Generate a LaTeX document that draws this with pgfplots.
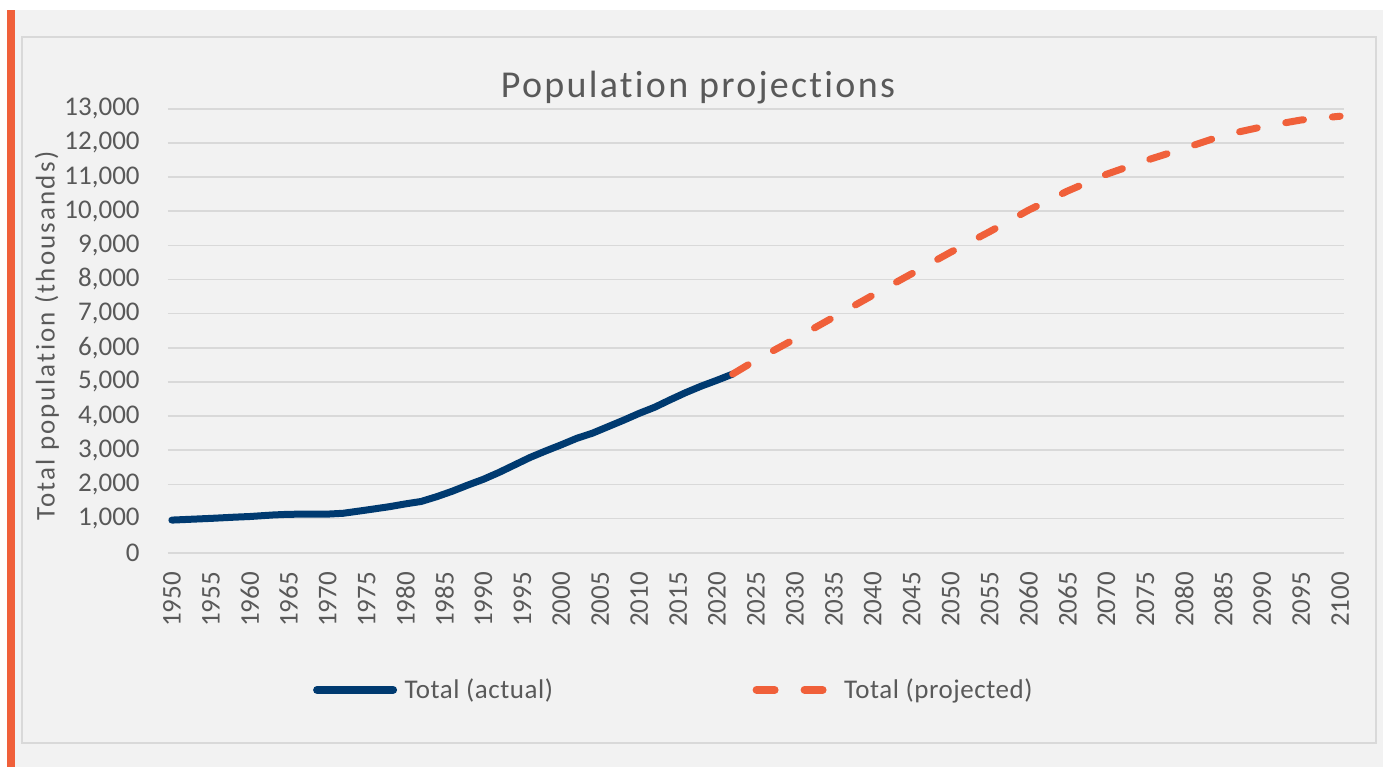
\documentclass[border=0pt]{standalone}
\usepackage{pgfplots}
\pgfplotsset{compat=1.18}
\usepackage{fontspec}
\setmainfont{Carlito}[Ligatures=NoCommon]
\newfontfamily\titlefont{Carlito}[LetterSpace=6,Ligatures=NoCommon]
\newfontfamily\ylabfont{Carlito}[LetterSpace=8,Ligatures=NoCommon]
\newfontfamily\legfont{Carlito}[LetterSpace=2,Ligatures=NoCommon]
\definecolor{bg}{HTML}{F2F2F2}
\definecolor{gridc}{HTML}{D9D9D9}
\definecolor{txt}{HTML}{595959}
\definecolor{navy}{HTML}{003A70}
\definecolor{orng}{HTML}{F0603A}
\pgfplotsset{
  legblue/.style={legend image code/.code={\draw[##1, line width=4pt] (2pt,0pt) -- (40pt,0pt);\path (0pt,0pt) (42pt,0pt);}},
  legorng/.style={legend image code/.code={\draw[##1, line width=4pt, dash pattern=on 9pt off 15pt] (2pt,0pt) -- (35pt,0pt);\path (0pt,0pt) (42pt,0pt);}},
}

\begin{document}
\begin{tikzpicture}
\begin{scope}[x=0.5pt,y=-0.5pt]
\fill[white] (0,0) rectangle (1383,767);
\fill[bg] (15,10) rectangle (1383,767);
\fill[orng] (7,10) rectangle (15,767);
\draw[gridc, line width=0.8pt] (22,37) rectangle (1376,743);
\node[text=txt, font=\titlefont\fontsize{19pt}{22pt}\selectfont] at (698,88) {Population projections};
\node[text=txt, rotate=90, font=\ylabfont\fontsize{13.5pt}{15pt}\selectfont] at (47,336) {Total population (thousands)};
\end{scope}
\begin{axis}[
  at={(84pt,-276.35pt)}, anchor=south west,
  scale only axis, width=588pt, height=222pt,
  xmin=1949.5, xmax=2100.5, ymin=0, ymax=13000,
  axis x line*=bottom, axis y line*=left,
  axis line style={draw=none},
  major tick length=0pt,
  xtick={1950,1955,...,2100},
  ytick={0,1000,...,13000},
  scaled y ticks=false,
  ymajorgrids, grid style={gridc, line width=0.8pt},
  tick label style={text=txt, font=\fontsize{13.5pt}{15pt}\selectfont},
  /pgf/number format/assume math mode=true,
  /pgf/number format/1000 sep={,},
  x tick label style={/pgf/number format/1000 sep={}, rotate=90, anchor=east, inner sep=0pt},
  xticklabel shift=9.5pt,
  y tick label style={inner sep=0pt, /pgf/number format/fixed},
  yticklabel shift=14pt,
  legend style={at={(0.4295,-0.309)}, anchor=center, draw=none, fill=none,
    legend columns=2, text=txt, font=\legfont\fontsize{13.5pt}{15pt}\selectfont,
    /tikz/every even column/.append style={column sep=96pt},
    nodes={inner sep=2pt}},
]
\addplot[navy, line width=3.5pt, line cap=round, line join=round, legblue]
coordinates {
(1950,955) (1952,975) (1955,1005) (1958,1040) (1960,1060) (1963,1105)
(1965,1125) (1968,1130) (1970,1130) (1972,1155) (1975,1250) (1978,1350)
(1980,1430) (1982,1500) (1984,1640) (1986,1800) (1988,1980) (1990,2150)
(1992,2350) (1994,2570) (1996,2790) (1998,2980) (2000,3160) (2002,3350)
(2004,3500) (2006,3690) (2008,3880) (2010,4080) (2012,4260) (2014,4480)
(2016,4690) (2018,4880) (2020,5050) (2022,5230)
};
\addlegendentry{Total (actual)}
\addplot[orng, line width=3.5pt, line cap=round, line join=round, dash pattern=on 9pt off 14.5pt, legorng]
coordinates {
(2022,5230) (2025,5640) (2030,6260) (2035,6900) (2040,7540) (2045,8170)
(2050,8800) (2055,9400) (2060,10030) (2065,10590) (2070,11080) (2075,11480)
(2080,11840) (2085,12220) (2090,12470) (2095,12670) (2100,12780)
};
\addlegendentry{Total (projected)}
\end{axis}
\end{tikzpicture}
\end{document}
